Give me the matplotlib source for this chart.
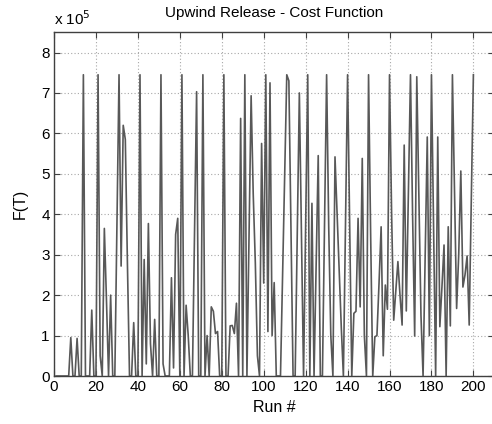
import matplotlib
matplotlib.use("Agg")
import matplotlib.pyplot as plt

plt.rcParams["font.family"] = ["Liberation Sans", "DejaVu Sans"]

# cost function per run, in units of 1e5
runs = list(range(1, 201))
cost = [
    0, 0, 0, 0, 0, 0, 0, 0.95, 0, 0,                      # 1-10
    0.93, 0, 0, 7.45, 0, 0, 0, 1.63, 0, 0,                # 11-20
    7.45, 0.5, 0, 3.65, 1.9, 0, 2.0, 0, 0, 3.7,           # 21-30
    7.45, 2.72, 6.2, 5.85, 2.8, 0, 0, 1.32, 0, 0,         # 31-40
    7.45, 0, 2.88, 0.3, 3.77, 0.8, 0, 1.4, 0, 0,          # 41-50
    7.45, 0.3, 0, 0, 0, 2.43, 0.2, 3.5, 3.9, 0,           # 51-60
    7.45, 0, 1.75, 1.0, 0, 0, 3.5, 7.03, 0, 0,            # 61-70
    7.45, 0, 1.0, 0, 1.71, 1.6, 1.05, 1.1, 0, 0,          # 71-80
    7.45, 0, 0, 1.24, 1.25, 1.05, 1.8, 0, 6.37, 0,        # 81-90
    7.45, 0, 3.5, 6.93, 4.5, 2.8, 0.5, 0, 5.75, 2.3,      # 91-100
    7.45, 1.1, 7.25, 1.0, 2.31, 0, 0, 0, 2.5, 5.0,        # 101-110
    7.45, 7.3, 3.6, 0, 0, 3.5, 7.0, 3.5, 0, 3.7,          # 111-120
    7.45, 0, 4.27, 0, 2.7, 5.45, 0, 0, 3.7, 7.45,         # 121-130
    3.7, 1.0, 0, 5.42, 4.0, 2.6, 1.2, 0, 3.7, 7.45,       # 131-140
    3.7, 0, 1.55, 1.6, 3.9, 1.71, 5.38, 1.0, 0, 7.45,     # 141-150
    3.5, 0, 0.97, 1.0, 2.3, 3.69, 0.5, 2.25, 1.65, 7.45,  # 151-160
    4.0, 1.38, 2.1, 2.83, 2.0, 1.26, 5.71, 1.61, 4.5, 7.45,  # 161-170
    4.0, 0.99, 7.4, 4.5, 1.5, 0, 3.0, 5.91, 1.0, 7.45,    # 171-180
    3.7, 0, 5.91, 1.22, 2.2, 3.24, 0, 3.69, 1.24, 7.45,   # 181-190
    4.5, 1.67, 3.0, 5.07, 2.2, 2.5, 2.97, 1.26, 4.3, 7.45,  # 191-200
]
x_ticks = [0, 20, 40, 60, 80, 100, 120, 140, 160, 180, 200]
y_ticks = [0, 1, 2, 3, 4, 5, 6, 7, 8]


def main():
    fig = plt.figure(figsize=(4.92, 4.24), dpi=100)
    ax = fig.add_axes([0.1098, 0.1132, 0.895, 0.8106])

    ax.plot(runs, cost, color="#585858", linewidth=1.2)

    ax.set_xlim(0, 210)
    ax.set_ylim(0, 8.5)
    ax.set_xticks(x_ticks)
    ax.set_yticks(y_ticks)
    ax.grid(True, color="#a8a8a8", linestyle=(0, (1, 2)), linewidth=0.8)
    ax.tick_params(direction="in", top=True, right=True, length=4,
                   labelsize=11, color="#404040", pad=3)
    for side in ax.spines.values():
        side.set_color("#404040")
        side.set_linewidth(1.0)

    ax.set_title("Upwind Release - Cost Function", fontsize=11, pad=11)
    ax.set_xlabel("Run #", fontsize=11.5, labelpad=4)
    ax.set_ylabel("F(T)", fontsize=11.5, labelpad=10)
    ax.text(0.0, 1.012, r"x 10$^{5}$", transform=ax.transAxes,
            fontsize=11, ha="left", va="bottom")

    fig.savefig("out.png", dpi=100)


if __name__ == "__main__":
    main()
